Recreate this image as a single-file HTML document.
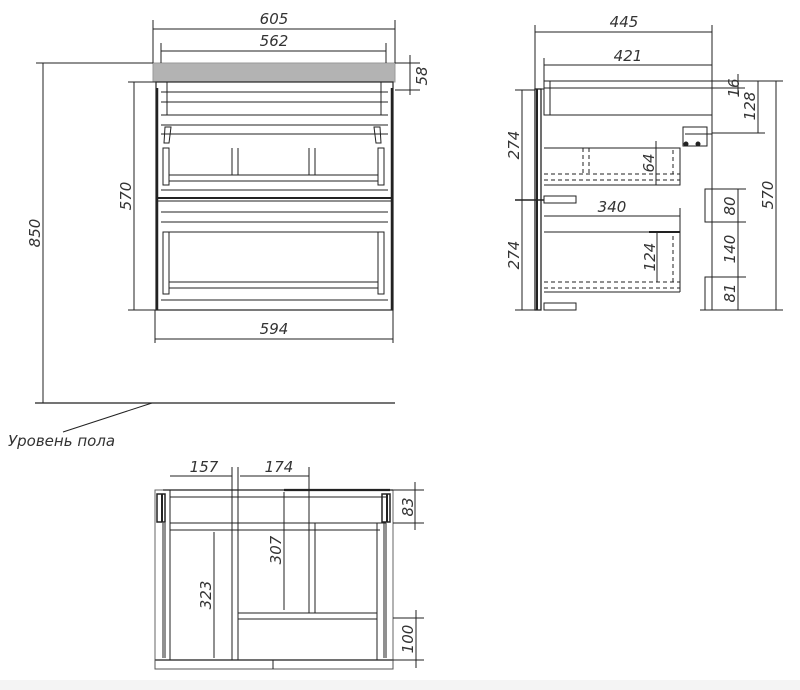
<!DOCTYPE html>
<html><head><meta charset="utf-8"><style>
html,body{margin:0;padding:0;background:#fff;width:800px;height:690px;overflow:hidden}
text{font-family:"DejaVu Sans","Liberation Sans",sans-serif;font-style:italic;fill:#333;font-size:15px}
</style></head><body>
<svg width="800" height="690" viewBox="0 0 800 690" xmlns="http://www.w3.org/2000/svg">
<g stroke="#222" fill="none" stroke-width="1">
<!-- FRONT VIEW -->
<rect x="153" y="63" width="242" height="19" fill="#b3b3b3" stroke="#999"/>
<rect x="156" y="82" width="237" height="228" stroke-width="1.2"/>
<line x1="157" y1="88" x2="157" y2="310" stroke-width="2.5"/>
<line x1="392" y1="88" x2="392" y2="310" stroke-width="2.5"/>
<line x1="167" y1="82" x2="167" y2="115"/><line x1="381" y1="82" x2="381" y2="115"/>
<line x1="161" y1="92" x2="388" y2="92"/><line x1="161" y1="102" x2="388" y2="102"/>
<line x1="161" y1="115" x2="388" y2="115"/><line x1="161" y1="125" x2="388" y2="125"/>
<line x1="161" y1="134" x2="388" y2="134"/>
<path d="M165 127 h6 l-2 16 h-5z M380 127 h-6 l2 16 h5z"/>
<rect x="163" y="148" width="6" height="37"/><rect x="378" y="148" width="6" height="37"/>
<line x1="232" y1="148" x2="232" y2="175"/><line x1="238" y1="148" x2="238" y2="175"/>
<line x1="309" y1="148" x2="309" y2="175"/><line x1="315" y1="148" x2="315" y2="175"/>
<line x1="169" y1="175" x2="378" y2="175"/><line x1="169" y1="181" x2="378" y2="181"/>
<line x1="161" y1="190" x2="388" y2="190"/>
<line x1="156" y1="198" x2="393" y2="198" stroke-width="2"/>
<line x1="156" y1="201" x2="393" y2="201"/>
<line x1="161" y1="212" x2="388" y2="212"/><line x1="161" y1="222" x2="388" y2="222"/>
<rect x="163" y="232" width="6" height="62"/><rect x="378" y="232" width="6" height="62"/>
<line x1="169" y1="232" x2="378" y2="232"/>
<line x1="169" y1="282" x2="378" y2="282"/><line x1="169" y1="288" x2="378" y2="288"/>
<line x1="161" y1="300" x2="388" y2="300"/>
<!-- front dims -->
<line x1="153" y1="20" x2="153" y2="63"/><line x1="395" y1="20" x2="395" y2="63"/>
<line x1="153" y1="29" x2="395" y2="29"/>
<line x1="161" y1="43" x2="161" y2="63"/><line x1="386" y1="43" x2="386" y2="63"/>
<line x1="161" y1="51" x2="386" y2="51"/>
<line x1="395" y1="63" x2="420" y2="63"/><line x1="395" y1="90" x2="420" y2="90"/>
<line x1="410" y1="55" x2="410" y2="95"/>
<line x1="36" y1="63" x2="153" y2="63"/>
<line x1="43" y1="63" x2="43" y2="403"/>
<line x1="128" y1="82" x2="156" y2="82"/><line x1="128" y1="310" x2="156" y2="310"/>
<line x1="134" y1="82" x2="134" y2="310"/>
<line x1="155" y1="310" x2="155" y2="343"/><line x1="393" y1="310" x2="393" y2="343"/>
<line x1="155" y1="339" x2="393" y2="339"/>
<line x1="35" y1="403" x2="395" y2="403" stroke-width="1.3"/>
<line x1="152" y1="403" x2="63" y2="432"/>
<!-- SIDE VIEW -->
<line x1="535" y1="25" x2="535" y2="90"/><line x1="712" y1="25" x2="712" y2="82"/>
<line x1="535" y1="32" x2="712" y2="32"/>
<line x1="544" y1="58" x2="544" y2="82"/>
<line x1="544" y1="65" x2="712" y2="65"/>
<rect x="544" y="81" width="168" height="34"/>
<line x1="550" y1="81" x2="550" y2="115"/>
<line x1="544" y1="88" x2="745" y2="88"/>
<line x1="712" y1="81" x2="783" y2="81"/>
<line x1="738" y1="74" x2="738" y2="95"/>
<line x1="758" y1="81" x2="758" y2="133"/>
<line x1="712" y1="133" x2="765" y2="133"/>
<line x1="776" y1="81" x2="776" y2="310"/>
<line x1="700" y1="310" x2="783" y2="310"/>
<line x1="712" y1="115" x2="712" y2="310"/>
<rect x="683" y="127" width="24" height="19"/>
<line x1="685" y1="134" x2="707" y2="134"/>
<circle cx="686" cy="144" r="2" fill="#222"/><circle cx="698" cy="144" r="2" fill="#222"/>
<line x1="707" y1="134" x2="712" y2="134"/>
<rect x="535" y="89" width="6" height="221" stroke-width="1.3"/>
<line x1="537" y1="89" x2="537" y2="310" stroke-width="2"/>
<line x1="541" y1="89" x2="544" y2="89"/>
<line x1="541" y1="100" x2="541" y2="102"/>
<line x1="515" y1="90" x2="535" y2="90"/><line x1="515" y1="200" x2="544" y2="200" stroke-width="1.5"/>
<line x1="515" y1="310" x2="535" y2="310"/>
<line x1="522" y1="90" x2="522" y2="310"/>
<rect x="544" y="196" width="32" height="7"/>
<rect x="544" y="303" width="32" height="7"/>
<!-- drawer 1 -->
<path d="M544 148 H680 V185 H544"/>
<g stroke-dasharray="4,3">
<line x1="583" y1="148" x2="583" y2="174"/><line x1="589" y1="148" x2="589" y2="174"/>
<line x1="673" y1="150" x2="673" y2="174"/>
<line x1="544" y1="174" x2="680" y2="174"/><line x1="544" y1="180" x2="680" y2="180"/>
<line x1="673" y1="236" x2="673" y2="282"/>
<line x1="544" y1="282" x2="680" y2="282"/><line x1="544" y1="288" x2="680" y2="288"/>
</g>
<line x1="656" y1="141" x2="656" y2="185"/>
<!-- drawer 2 -->
<line x1="680" y1="208" x2="680" y2="292"/>
<line x1="544" y1="216" x2="680" y2="216"/>
<line x1="544" y1="232" x2="680" y2="232"/>
<line x1="649" y1="232" x2="680" y2="232" stroke-width="2"/>
<line x1="544" y1="292" x2="680" y2="292"/>
<line x1="657" y1="232" x2="657" y2="282"/>
<!-- right blocks -->
<rect x="705" y="189" width="7" height="33"/>
<rect x="705" y="277" width="7" height="33"/>
<line x1="712" y1="189" x2="746" y2="189"/><line x1="712" y1="222" x2="746" y2="222"/>
<line x1="712" y1="277" x2="746" y2="277"/>
<line x1="738" y1="189" x2="738" y2="310"/>
<!-- TOP VIEW -->
<rect x="155" y="490" width="238" height="170" stroke="#666"/>
<line x1="155" y1="660" x2="393" y2="660" stroke-width="1.5"/>
<rect x="155" y="660" width="238" height="9" stroke="#555"/>
<line x1="273" y1="660" x2="273" y2="669"/>
<line x1="163" y1="490" x2="393" y2="490" stroke-width="1.2"/>
<line x1="284" y1="490" x2="390" y2="490" stroke-width="2.2"/>
<line x1="170" y1="497" x2="386" y2="497"/>
<line x1="170" y1="523" x2="386" y2="523"/>
<line x1="170" y1="530" x2="380" y2="530"/>
<rect x="157" y="494" width="8" height="28" stroke-width="1.5"/>
<rect x="382" y="494" width="8" height="28" stroke-width="1.5"/>
<line x1="162" y1="494" x2="162" y2="522" stroke-width="2"/>
<line x1="387" y1="494" x2="387" y2="522" stroke-width="2"/>
<line x1="163" y1="523" x2="163" y2="658"/><line x1="165" y1="523" x2="165" y2="658"/>
<line x1="384" y1="523" x2="384" y2="658"/><line x1="386" y1="523" x2="386" y2="658"/>
<line x1="170" y1="490" x2="170" y2="660"/>
<line x1="232" y1="467" x2="232" y2="660"/><line x1="238" y1="467" x2="238" y2="660"/>
<line x1="309" y1="467" x2="309" y2="613"/><line x1="315" y1="523" x2="315" y2="613"/>
<line x1="377" y1="523" x2="377" y2="660"/>
<line x1="238" y1="613" x2="377" y2="613"/><line x1="238" y1="619" x2="377" y2="619"/>
<line x1="170" y1="476" x2="232" y2="476"/><line x1="240" y1="476" x2="309" y2="476"/>
<line x1="284" y1="492" x2="284" y2="610"/>
<line x1="214" y1="532" x2="214" y2="658"/>
<line x1="393" y1="490" x2="424" y2="490"/><line x1="393" y1="523" x2="424" y2="523"/>
<line x1="415" y1="482" x2="415" y2="530"/>
<line x1="393" y1="618" x2="424" y2="618"/><line x1="393" y1="660" x2="424" y2="660"/>
<line x1="416" y1="610" x2="416" y2="668"/>
</g>
<rect x="0" y="680" width="800" height="10" fill="#f4f4f4"/>
<!-- labels -->
<text x="274" y="24" text-anchor="middle">605</text>
<text x="274" y="46" text-anchor="middle">562</text>
<text x="274" y="334" text-anchor="middle">594</text>
<text transform="translate(427,76) rotate(-90)" text-anchor="middle">58</text>
<text transform="translate(40,233) rotate(-90)" text-anchor="middle">850</text>
<text transform="translate(131,196) rotate(-90)" text-anchor="middle">570</text>
<text x="8" y="446" font-size="14">Уровень  пола</text>
<text x="624" y="27" text-anchor="middle">445</text>
<text x="628" y="61" text-anchor="middle">421</text>
<text x="612" y="212" text-anchor="middle">340</text>
<text transform="translate(519,145) rotate(-90)" text-anchor="middle">274</text>
<text transform="translate(519,255) rotate(-90)" text-anchor="middle">274</text>
<text transform="translate(654,163) rotate(-90)" text-anchor="middle">64</text>
<text transform="translate(655,257) rotate(-90)" text-anchor="middle">124</text>
<text transform="translate(739,88) rotate(-90)" text-anchor="middle" font-size="11">16</text>
<text transform="translate(755,106) rotate(-90)" text-anchor="middle">128</text>
<text transform="translate(773,195) rotate(-90)" text-anchor="middle">570</text>
<text transform="translate(735,206) rotate(-90)" text-anchor="middle">80</text>
<text transform="translate(735,249) rotate(-90)" text-anchor="middle">140</text>
<text transform="translate(735,293) rotate(-90)" text-anchor="middle">81</text>
<text x="204" y="472" text-anchor="middle">157</text>
<text x="279" y="472" text-anchor="middle">174</text>
<text transform="translate(413,507) rotate(-90)" text-anchor="middle">83</text>
<text transform="translate(413,639) rotate(-90)" text-anchor="middle">100</text>
<text transform="translate(211,595) rotate(-90)" text-anchor="middle">323</text>
<text transform="translate(281,550) rotate(-90)" text-anchor="middle">307</text>
</svg>
</body></html>
